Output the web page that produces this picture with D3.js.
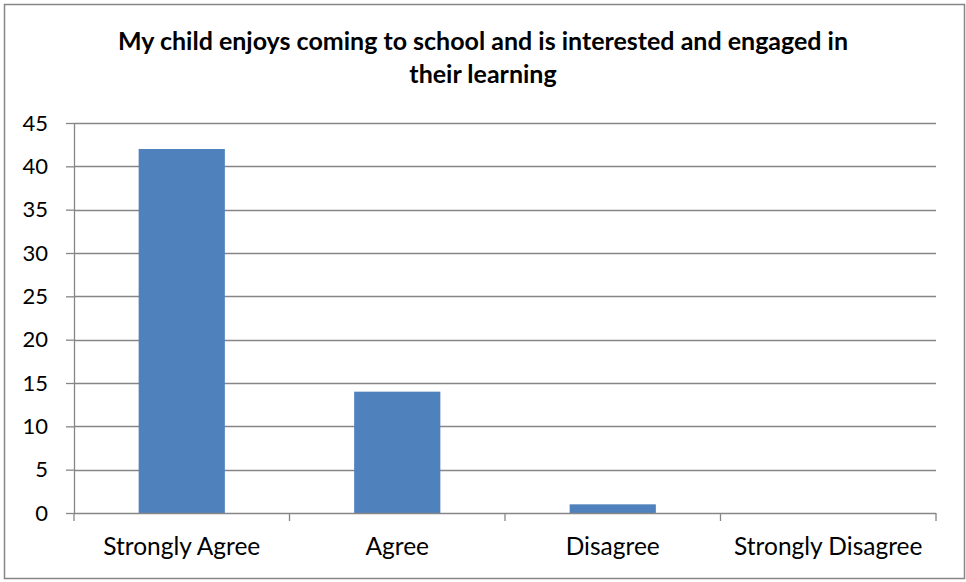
<!DOCTYPE html>
<html>
<head>
<meta charset="utf-8">
<script src="https://cdn.jsdelivr.net/npm/d3@7"></script>
<style>
  body { margin: 0; background: white; }
  text { font-family: Lato, "Open Sans", sans-serif; fill: #000; }
</style>
</head>
<body>
<div id="vis"></div>
<script>
// chart data
let categories = ["Strongly Agree", "Agree", "Disagree", "Strongly Disagree"];
let counts = [42, 14, 1, 0];
let yTicks = [0, 5, 10, 15, 20, 25, 30, 35, 40, 45];
let titleLines = ["My child enjoys coming to school and is interested and engaged in", "their learning"];

let W = 966, H = 582;
let margin = { top: 123, left: 74, right: 30, bottom: 69 },
  width = 936 - margin.left,
  height = 513 - margin.top;

let svg = d3.select("#vis")
  .append("svg")
  .attr("width", W)
  .attr("height", H);

// outer border
svg.append("rect")
  .attr("x", 4.5).attr("y", 4.5)
  .attr("width", 960).attr("height", 574)
  .attr("fill", "white")
  .attr("stroke", "#868686")
  .attr("stroke-width", 1.5);

// title
svg.append("g")
  .selectAll("text")
  .data(titleLines)
  .join("text")
  .attr("x", 483)
  .attr("y", (d, i) => 50 + i * 33)
  .attr("text-anchor", "middle")
  .style("font-weight", "bold")
  .style("font-size", "25px")
  .text(d => d);

let g = svg.append("g")
  .attr("transform", `translate(${margin.left}, ${margin.top})`);

let x = d3.scaleBand().domain(categories).range([0, width]).paddingInner(0.6).paddingOuter(0.3);
let xb = d3.scaleBand().domain(categories).range([0, width]);
let y = d3.scaleLinear().domain([0, 45]).range([height, 0]);

// gridlines
g.append("g")
  .selectAll("line")
  .data(yTicks.filter(d => d > 0))
  .join("line")
  .attr("x1", 0).attr("x2", width)
  .attr("y1", d => Math.round(y(d)) + 0.5)
  .attr("y2", d => Math.round(y(d)) + 0.5)
  .attr("stroke", "#868686")
  .attr("stroke-width", 1.3);

// bars
g.append("g")
  .selectAll("rect")
  .data(counts)
  .join("rect")
  .attr("x", (d, i) => x(categories[i]))
  .attr("y", d => y(d))
  .attr("width", x.bandwidth())
  .attr("height", d => height - y(d))
  .attr("fill", "#4F81BD");

// y axis
let yAxis = g.append("g")
  .call(d3.axisLeft(y).tickValues(yTicks).tickSize(8).tickPadding(18));
yAxis.selectAll("line, path").attr("stroke", "#868686").attr("stroke-width", 1.3);
yAxis.select(".domain").attr("d", `M0.5,${height}V0`);
yAxis.selectAll("text").style("font-size", "22px").style("font-family", "Lato, sans-serif");

// x axis
let xAxis = g.append("g")
  .attr("transform", `translate(0, ${height})`);
xAxis.append("line")
  .attr("x1", 0).attr("x2", width)
  .attr("y1", 0.5).attr("y2", 0.5)
  .attr("stroke", "#868686").attr("stroke-width", 1.3);
xAxis.selectAll(".tk")
  .data([0].concat(categories.map(c => xb(c) + xb.bandwidth())))
  .join("line")
  .attr("class", "tk")
  .attr("x1", d => d).attr("x2", d => d)
  .attr("y1", 0).attr("y2", 8)
  .attr("stroke", "#868686").attr("stroke-width", 1.3);
xAxis.selectAll(".lbl")
  .data(categories)
  .join("text")
  .attr("class", "lbl")
  .attr("x", d => xb(d) + xb.bandwidth() / 2)
  .attr("y", 42)
  .attr("text-anchor", "middle")
  .style("font-size", "24.5px")
  .text(d => d);
</script>
</body>
</html>
